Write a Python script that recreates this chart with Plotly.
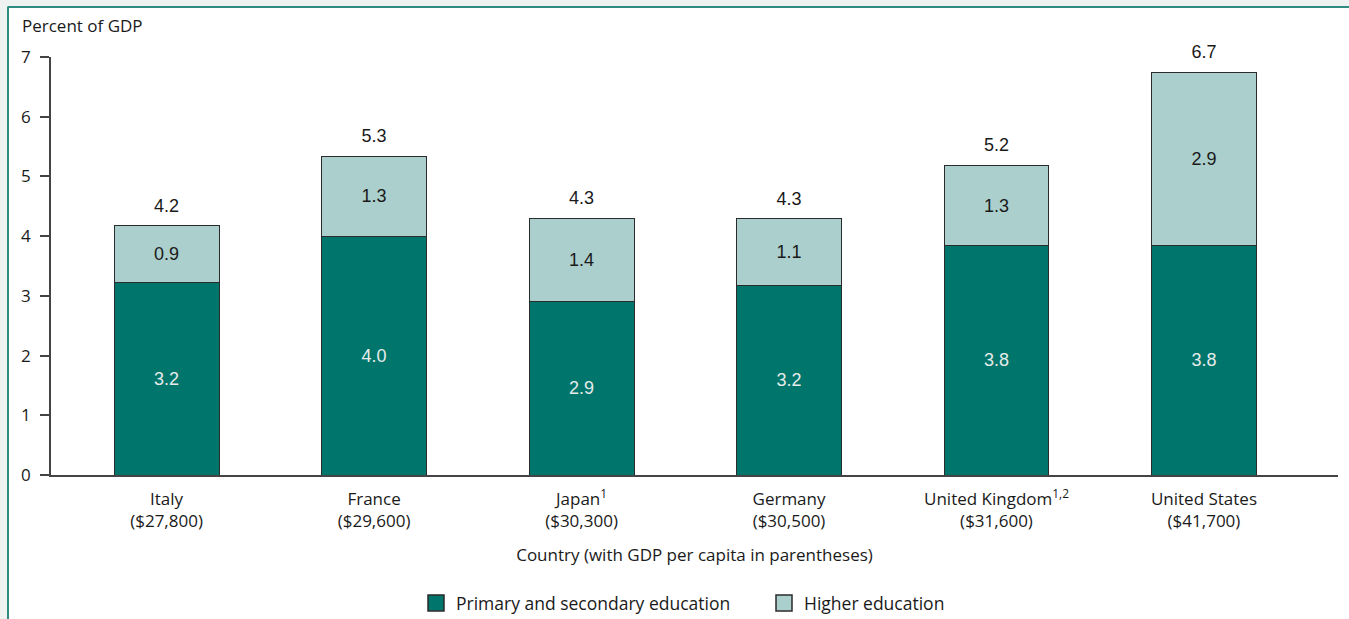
import plotly.graph_objects as go

countries = ["Italy", "France", "Japan<sup>1</sup>", "Germany", "United Kingdom<sup>1,2</sup>", "United States"]
gdp_per_capita = ["$27,800", "$29,600", "$30,300", "$30,500", "$31,600", "$41,700"]
primary_secondary = [3.23, 4.00, 2.90, 3.18, 3.84, 3.84]
higher = [0.94, 1.34, 1.40, 1.11, 1.34, 2.90]
totals = [round(a + b, 2) for a, b in zip(primary_secondary, higher)]

tick_text = [f"{c}<br>({g})" for c, g in zip(countries, gdp_per_capita)]

DARK = "#00756b"
LIGHT = "#aacfcc"
EDGE = "#2b2b2b"
TXT = "#1a1a1a"
AXIS_FONT = "Open Sans"
VAL_FONT = "Liberation Sans"

# plot area pixel geometry (for frame shapes)
L, R, T, B = 51, 1338, 57, 475
W, H = R - L, B - T
def px(x):
    return (x - L) / W
def py(y):
    return (B - y) / H

fig = go.Figure()
fig.add_trace(go.Bar(
    x=countries, y=primary_secondary, name="Primary and secondary education",
    marker=dict(color=DARK, line=dict(color=EDGE, width=1)),
    width=0.506, text=[f"{v:.1f}" for v in primary_secondary],
    textposition="inside", insidetextanchor="middle", textangle=0,
    textfont=dict(family=VAL_FONT, size=18, color="#e6ecea"),
    showlegend=False, hoverinfo="skip",
))
fig.add_trace(go.Bar(
    x=countries, y=higher, name="Higher education",
    marker=dict(color=LIGHT, line=dict(color=EDGE, width=1)),
    width=0.506, text=[f"{v:.1f}" for v in higher],
    textposition="inside", insidetextanchor="middle", textangle=0,
    textfont=dict(family=VAL_FONT, size=18, color=TXT),
    showlegend=False, hoverinfo="skip",
))
fig.add_trace(go.Scatter(
    x=countries, y=totals, mode="markers+text", text=[f"{v:.1f}" for v in totals],
    marker=dict(size=14, color="rgba(0,0,0,0)"),
    textposition="top center", textfont=dict(family=VAL_FONT, size=18, color=TXT),
    showlegend=False, hoverinfo="skip", cliponaxis=False,
))
# legend entries
for nm, col in [("Primary and secondary education", DARK), ("Higher education", LIGHT)]:
    fig.add_trace(go.Scatter(
        x=[None], y=[None], mode="markers", name=nm,
        marker=dict(symbol="square", size=16, color=col, line=dict(color=EDGE, width=1.5)),
    ))

fig.update_layout(
    width=1349, height=619,
    margin=dict(l=L, r=1349 - R, t=T, b=619 - B, autoexpand=False),
    barmode="stack", bargap=0.5,
    plot_bgcolor="white", paper_bgcolor="white",
    font=dict(family=AXIS_FONT, size=17, color=TXT),
    showlegend=True,
    legend=dict(orientation="h", x=px(416), xanchor="left", y=py(603), yanchor="middle",
                font=dict(family=AXIS_FONT, size=17.5, color=TXT), traceorder="normal",
                itemwidth=30, tracegroupgap=0, entrywidth=303, entrywidthmode="pixels"),
    xaxis=dict(
        type="category", range=[-0.557, 5.646],
        tickmode="array", tickvals=countries, ticktext=tick_text,
        showline=True, linecolor="#444444", linewidth=1.5, ticks="",
        showgrid=False, zeroline=False, ticklabelstandoff=8,
        tickfont=dict(family=AXIS_FONT, size=17, color=TXT),
        title=dict(text="Country (with GDP per capita in parentheses)",
                   font=dict(family=AXIS_FONT, size=17, color=TXT), standoff=18),
    ),
    yaxis=dict(
        range=[0, 7], dtick=1, showline=True, linecolor="#444444", linewidth=1.5,
        ticks="outside", ticklen=9, tickcolor="#444444", tickwidth=1.5,
        showgrid=False, zeroline=False, ticklabelstandoff=6,
        tickfont=dict(family=AXIS_FONT, size=17, color=TXT),
    ),
    annotations=[dict(text="Percent of GDP", xref="paper", yref="paper",
                      x=px(20), y=py(25), xanchor="left", yanchor="middle",
                      showarrow=False, font=dict(family=AXIS_FONT, size=17, color=TXT))],
    shapes=[
        dict(type="rect", xref="paper", yref="paper", x0=px(0), x1=px(1349), y0=py(0), y1=py(7),
             fillcolor="#eef3f2", line=dict(width=0), layer="below"),
        dict(type="rect", xref="paper", yref="paper", x0=px(0), x1=px(7.5), y0=py(7), y1=py(619),
             fillcolor="#eef3f2", line=dict(width=0), layer="below"),
        dict(type="line", xref="paper", yref="paper", x0=px(7.5), x1=px(1349), y0=py(7), y1=py(7),
             line=dict(color="#2e8b80", width=2)),
        dict(type="line", xref="paper", yref="paper", x0=px(8), x1=px(8), y0=py(7), y1=py(619),
             line=dict(color="#2e8b80", width=2)),
    ],
)

fig.write_html("out.html")
